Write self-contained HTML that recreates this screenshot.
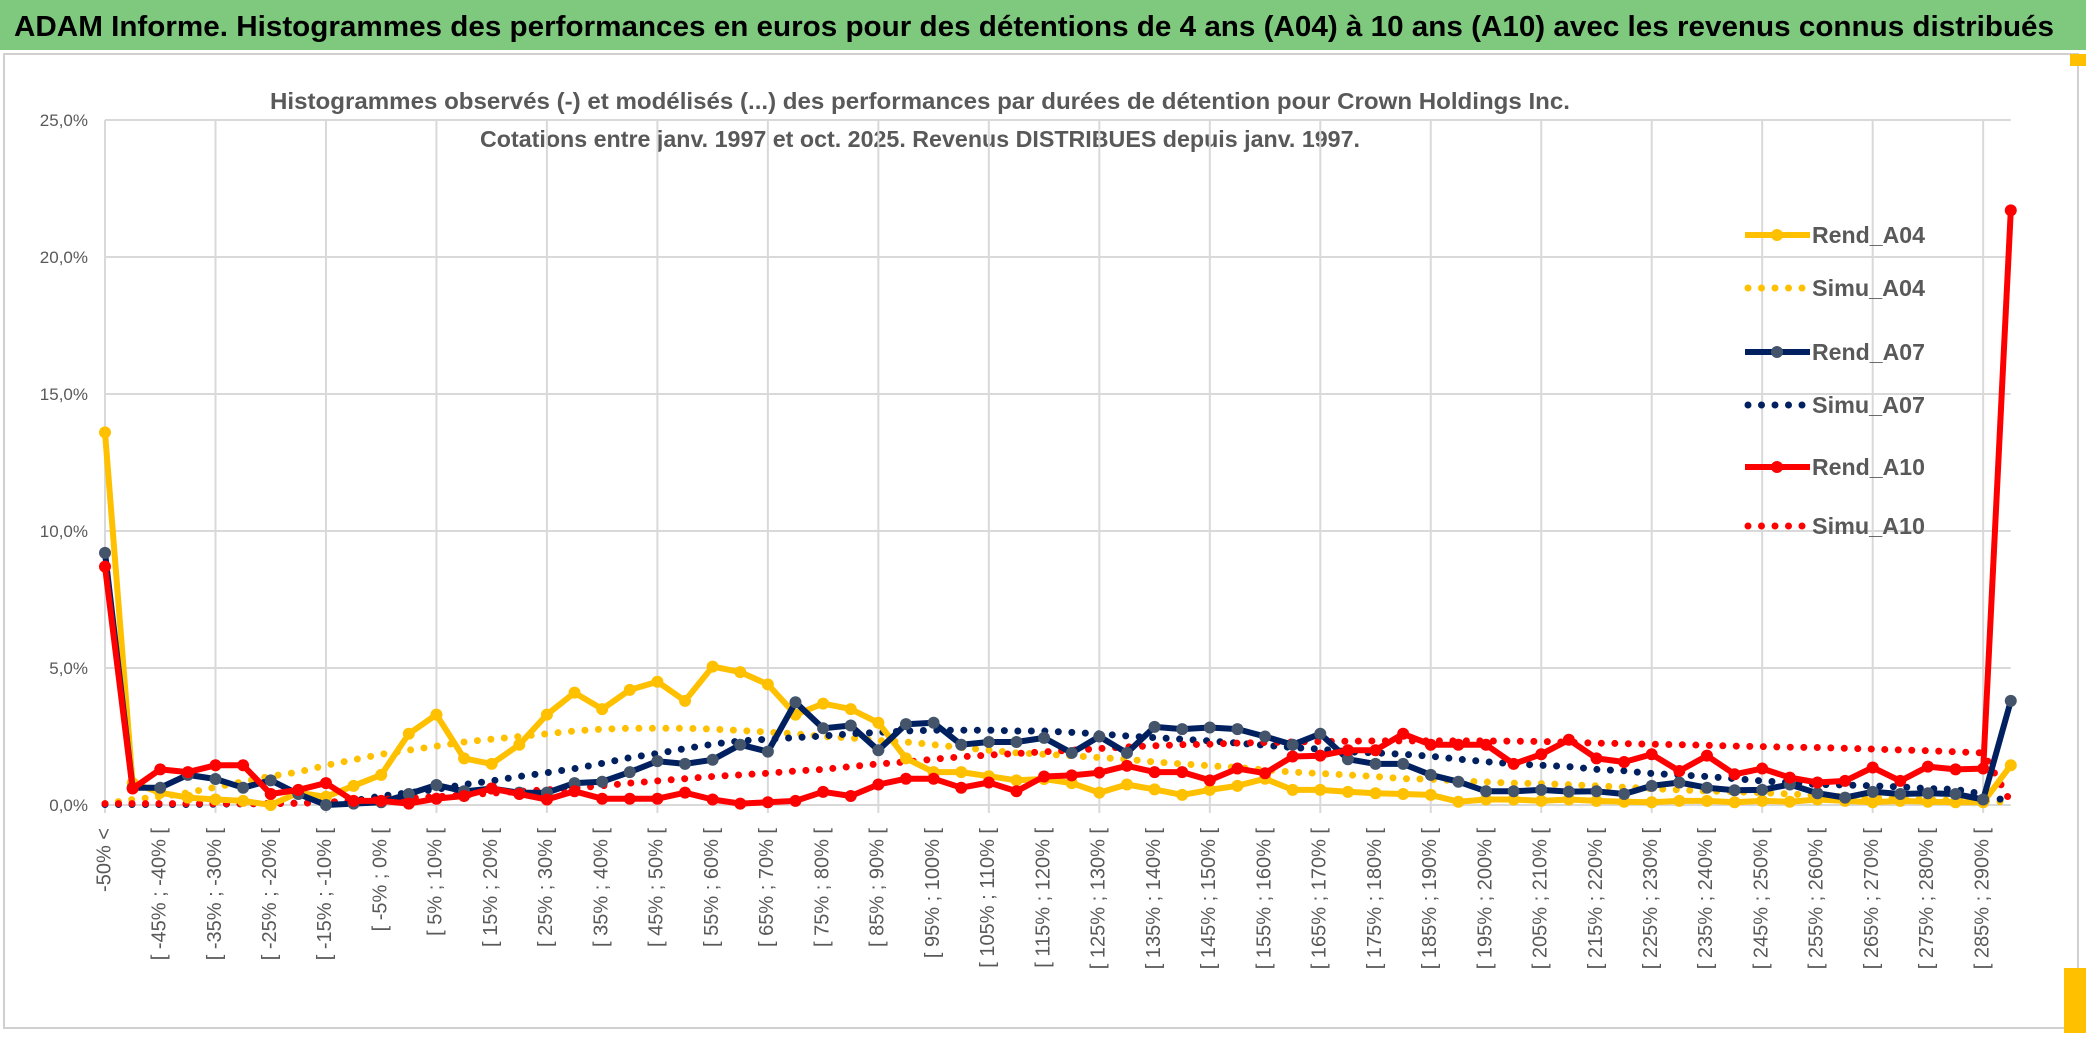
<!DOCTYPE html>
<html><head><meta charset="utf-8">
<style>
html,body{margin:0;padding:0;background:#fff;}
body{width:2086px;height:1033px;overflow:hidden;font-family:"Liberation Sans",sans-serif;}
</style></head>
<body>
<svg id="chart" width="2086" height="1033" viewBox="0 0 2086 1033" xmlns="http://www.w3.org/2000/svg">
  <rect x="0" y="0" width="2086" height="1033" fill="#ffffff"/>
  <rect x="0" y="0" width="2086" height="50" fill="#7fc97f"/>
  <text x="14" y="36" font-family="Liberation Sans, sans-serif" font-weight="bold" font-size="29" fill="#000" textLength="2040" lengthAdjust="spacingAndGlyphs">ADAM Informe. Histogrammes des performances en euros pour des détentions de 4 ans (A04) à 10 ans (A10) avec les revenus connus distribués</text>
  <rect x="4" y="54" width="2074" height="974" fill="none" stroke="#d0d0d0" stroke-width="2"/>
  <rect x="2070" y="54" width="16" height="12" fill="#ffc000"/>
  <rect x="2064" y="968" width="22" height="65" fill="#ffc000"/>
  <text x="920" y="109" text-anchor="middle" font-family="Liberation Sans, sans-serif" font-weight="bold" font-size="23" fill="#595959" textLength="1300" lengthAdjust="spacingAndGlyphs">Histogrammes observés (-) et modélisés (...) des performances par durées de détention pour Crown Holdings Inc.</text>
  <text x="920" y="147" text-anchor="middle" font-family="Liberation Sans, sans-serif" font-weight="bold" font-size="23" fill="#595959" textLength="880" lengthAdjust="spacingAndGlyphs">Cotations entre janv. 1997 et oct. 2025. Revenus DISTRIBUES depuis janv. 1997.</text>
  <g id="grid"></g>
  <g id="yaxis"></g>
  <g id="xaxis"></g>
  <g id="series"></g>
  <g id="legend"></g>
</svg>
<script>
const rendA04 = [13.6,0.8,0.45,0.27,0.2,0.15,0.0,0.45,0.3,0.7,1.1,2.6,3.3,1.7,1.5,2.2,3.3,4.1,3.5,4.2,4.5,3.8,5.05,4.85,4.4,3.3,3.7,3.5,3.0,1.7,1.2,1.2,1.05,0.9,0.95,0.8,0.45,0.75,0.57,0.37,0.55,0.7,0.96,0.55,0.55,0.48,0.43,0.4,0.37,0.12,0.2,0.2,0.15,0.2,0.15,0.12,0.1,0.15,0.15,0.1,0.15,0.12,0.2,0.15,0.1,0.15,0.12,0.1,0.1,1.45];
const simuA04 = [0.05,0.2,0.3,0.45,0.65,0.85,1.05,1.2,1.45,1.65,1.85,2.0,2.15,2.3,2.4,2.5,2.6,2.7,2.77,2.8,2.8,2.8,2.77,2.72,2.66,2.6,2.5,2.45,2.35,2.3,2.2,2.1,2.0,1.9,1.85,1.8,1.73,1.67,1.57,1.5,1.43,1.37,1.28,1.2,1.15,1.1,1.04,0.96,0.94,0.88,0.84,0.8,0.78,0.74,0.7,0.65,0.6,0.55,0.51,0.48,0.45,0.4,0.35,0.3,0.27,0.23,0.2,0.17,0.15,0.1];
const rendA07 = [9.2,0.63,0.63,1.1,0.95,0.63,0.9,0.4,0.0,0.05,0.1,0.4,0.73,0.5,0.6,0.45,0.45,0.8,0.85,1.2,1.6,1.5,1.65,2.2,1.95,3.75,2.8,2.9,2.0,2.95,3.0,2.2,2.3,2.3,2.45,1.9,2.5,1.9,2.85,2.77,2.83,2.77,2.5,2.2,2.6,1.67,1.5,1.5,1.1,0.85,0.5,0.5,0.55,0.49,0.5,0.4,0.7,0.82,0.63,0.54,0.55,0.75,0.43,0.27,0.48,0.4,0.43,0.4,0.2,3.8];
const simuA07 = [0.02,0.02,0.02,0.02,0.03,0.04,0.05,0.07,0.1,0.15,0.33,0.45,0.57,0.75,0.88,1.04,1.18,1.33,1.52,1.73,1.88,2.06,2.22,2.34,2.4,2.46,2.52,2.6,2.65,2.7,2.73,2.73,2.73,2.7,2.7,2.65,2.6,2.52,2.46,2.4,2.34,2.26,2.18,2.1,2.04,1.94,1.9,1.85,1.78,1.67,1.58,1.5,1.45,1.4,1.3,1.25,1.15,1.1,1.04,0.96,0.88,0.82,0.75,0.73,0.7,0.66,0.6,0.57,0.4,0.1];
const rendA10 = [8.7,0.6,1.3,1.2,1.45,1.45,0.4,0.55,0.8,0.15,0.15,0.05,0.23,0.33,0.6,0.4,0.2,0.5,0.23,0.23,0.23,0.45,0.2,0.05,0.1,0.15,0.48,0.33,0.75,0.96,0.96,0.63,0.82,0.5,1.04,1.08,1.18,1.43,1.2,1.2,0.9,1.33,1.16,1.77,1.8,2.0,2.0,2.6,2.2,2.2,2.2,1.5,1.85,2.38,1.7,1.57,1.85,1.24,1.8,1.12,1.33,1.0,0.82,0.88,1.37,0.88,1.4,1.3,1.33,21.7];
const simuA10 = [0.05,0.05,0.05,0.05,0.05,0.05,0.05,0.06,0.1,0.15,0.2,0.25,0.3,0.37,0.43,0.5,0.55,0.62,0.7,0.8,0.88,0.96,1.04,1.1,1.16,1.24,1.3,1.4,1.5,1.57,1.67,1.76,1.82,1.88,1.94,2.0,2.06,2.12,2.16,2.2,2.22,2.26,2.28,2.3,2.32,2.33,2.34,2.34,2.34,2.34,2.34,2.33,2.32,2.29,2.26,2.24,2.22,2.2,2.18,2.15,2.13,2.11,2.1,2.07,2.04,2.01,1.98,1.94,1.9,0.1];
const yTicks = [0,5,10,15,20,25];
const yTickLabels = ["0,0%","5,0%","10,0%","15,0%","20,0%","25,0%"];
const categories = [];
categories.push("-50% <");
for (let k = 1; k < 69; k++) { const a = -55 + 5*k; categories.push("[ " + a + "% ; " + (a+5) + "% ["); }
categories.push("> 290%");

const NS = "http://www.w3.org/2000/svg";
const X0 = 105, DX = 27.62, Y0 = 805, KY = 27.4;
function xPos(i){ return X0 + i*DX; }
function yPos(v){ return Y0 - v*KY; }
function mk(tag, attrs, parent){ const e = document.createElementNS(NS, tag); for (const k in attrs) e.setAttribute(k, attrs[k]); parent.appendChild(e); return e; }

const grid = document.getElementById('grid');
const xRight = xPos(categories.length-1);
yTicks.forEach((t) => {
  const l = mk('line', {x1:X0, x2:xRight, y1:yPos(t), y2:yPos(t), stroke:'#d9d9d9', 'stroke-width':2}, grid);
  
  
});
for (let i = 0; i < categories.length; i += 4) {
  const l = mk('line', {x1:xPos(i), x2:xPos(i), y1:yPos(25), y2:Y0+8, stroke:'#d9d9d9', 'stroke-width':2}, grid);
  
  
}
const yaxis = document.getElementById('yaxis');
yTicks.forEach((t, k) => {
  const tx = mk('text', {x:88, y:yPos(t)+6, 'text-anchor':'end', 'font-size':17, fill:'#595959', 'font-family':'Liberation Sans, sans-serif'}, yaxis);
  tx.textContent = yTickLabels[k];
  
  
});
const xaxis = document.getElementById('xaxis');
for (let i = 0; i < categories.length - 1; i += 2) {
  const x = xPos(i), y = 828;
  const tx = mk('text', {x:x, y:y, transform:'rotate(-90 '+x+' '+y+')', 'text-anchor':'end', 'dominant-baseline':'middle', 'font-size':20, fill:'#595959', 'font-family':'Liberation Sans, sans-serif'}, xaxis);
  tx.textContent = categories[i];
  
  
}
const series = document.getElementById('series');
function pts(arr){ return arr.map((v,i)=> xPos(i).toFixed(1)+','+yPos(v).toFixed(1)).join(' '); }
function simu(arr, color, name){
  const p = mk('polyline', {points:pts(arr), fill:'none', stroke:color, 'stroke-width':7, 'stroke-linecap':'round', 'stroke-dasharray':'0 13.5'}, series);
  
  
}
function rend(arr, color, mcolor, name){
  const p = mk('polyline', {points:pts(arr), fill:'none', stroke:color, 'stroke-width':6, 'stroke-linejoin':'round'}, series);
  
  
  arr.forEach((v,i) => {
    const c = mk('circle', {cx:xPos(i), cy:yPos(v), r:6, fill:mcolor}, series);
    
    
  });
}
simu(simuA04, '#ffc000', 'simu-a04');
simu(simuA07, '#002060', 'simu-a07');
simu(simuA10, '#ff0000', 'simu-a10');
rend(rendA04, '#ffc000', '#ffc000', 'rend-a04');
rend(rendA07, '#002060', '#44546a', 'rend-a07');
rend(rendA10, '#ff0000', '#ff0000', 'rend-a10');

const legend = document.getElementById('legend');
const legItems = [
  ['Rend_A04','#ffc000','#ffc000',false,235],
  ['Simu_A04','#ffc000',null,true,288],
  ['Rend_A07','#002060','#44546a',false,352],
  ['Simu_A07','#002060',null,true,405],
  ['Rend_A10','#ff0000','#ff0000',false,467],
  ['Simu_A10','#ff0000',null,true,526]
];
legItems.forEach(it => {
  const g = mk('g', {}, legend);
  
  
  if (it[3]) {
    mk('line', {x1:1748, x2:1808, y1:it[4], y2:it[4], stroke:it[1], 'stroke-width':7, 'stroke-linecap':'round', 'stroke-dasharray':'0 13.5'}, g);
  } else {
    mk('line', {x1:1745, x2:1810, y1:it[4], y2:it[4], stroke:it[1], 'stroke-width':6}, g);
    mk('circle', {cx:1777, cy:it[4], r:6, fill:it[2]}, g);
  }
  const t = mk('text', {x:1812, y:it[4]+8, 'font-size':23, 'font-weight':'bold', fill:'#595959', 'font-family':'Liberation Sans, sans-serif', textLength:113, lengthAdjust:'spacingAndGlyphs'}, g);
  t.textContent = it[0];
});
</script>
</body></html>
